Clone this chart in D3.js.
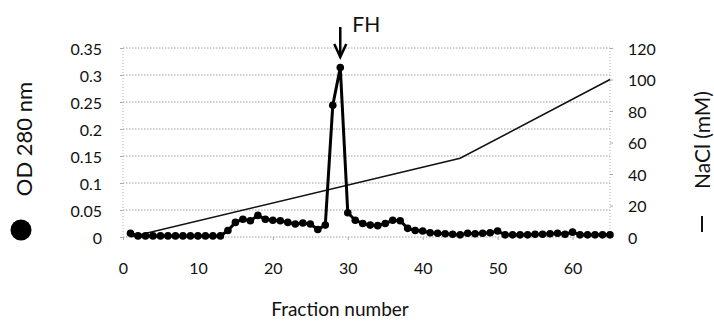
<!DOCTYPE html>
<html>
<head>
<meta charset="utf-8">
<script src="https://cdn.jsdelivr.net/npm/d3@7"></script>
<style>
  body { margin: 0; background: #fff; }
  text { font-family: Lato, "Open Sans", sans-serif; fill: #111; }
</style>
</head>
<body>
<div id="chart"></div>
<script>
// OD 280 nm per fraction (fractions 1..65)
var fractions = d3.range(1, 66);
var od280 = [
  0.007, 0.002, 0.002, 0.002, 0.002, 0.002, 0.002, 0.002, 0.002, 0.002,
  0.002, 0.002, 0.002, 0.012, 0.027, 0.033, 0.030, 0.040, 0.033, 0.031,
  0.030, 0.027, 0.024, 0.026, 0.024, 0.014, 0.022, 0.244, 0.314, 0.045,
  0.031, 0.025, 0.022, 0.021, 0.025, 0.031, 0.030, 0.016, 0.012, 0.011,
  0.008, 0.007, 0.006, 0.005, 0.004, 0.007, 0.006, 0.007, 0.008, 0.011,
  0.004, 0.004, 0.004, 0.004, 0.005, 0.005, 0.006, 0.007, 0.005, 0.009,
  0.004, 0.004, 0.004, 0.004, 0.004
];
// NaCl gradient (mM)
var naclFractions = [1, 45, 65];
var naclValues = [0, 50, 100];

var odTicks = [0, 0.05, 0.1, 0.15, 0.2, 0.25, 0.3, 0.35];
var naclTicks = [0, 20, 40, 60, 80, 100, 120];
var xTicks = [0, 10, 20, 30, 40, 50, 60];

const width = 714, height = 322;
const plot = {left: 123, right: 610, top: 48, bottom: 237};

var svg = d3.select("#chart").append("svg")
  .attr("width", width)
  .attr("height", height);

var x = d3.scaleLinear().domain([0, 65]).range([plot.left, plot.right]);
var yL = d3.scaleLinear().domain([0, 0.35]).range([plot.bottom, plot.top]);
var yR = d3.scaleLinear().domain([0, 120]).range([plot.bottom, plot.top]);

// gridlines
svg.append("g")
  .selectAll("line")
  .data(odTicks)
  .enter().append("line")
  .attr("x1", plot.left).attr("x2", plot.right)
  .attr("y1", d => yL(d)).attr("y2", d => yL(d))
  .attr("stroke", "#a0a0a0")
  .attr("stroke-width", 1)
  .attr("stroke-dasharray", "1.5,1.5");

// frame side lines (dotted)
[plot.left, plot.right].forEach(function(px) {
  svg.append("line")
    .attr("x1", px).attr("x2", px)
    .attr("y1", plot.top).attr("y2", plot.bottom)
    .attr("stroke", "#b5b5b5")
    .attr("stroke-dasharray", "1,2");
});

// left axis
var leftAxis = svg.append("g")
  .attr("transform", "translate(" + plot.left + ",0)")
  .call(d3.axisLeft(yL).tickValues(odTicks).tickSize(3).tickFormat(d => d === 0 ? "0" : String(d)));
leftAxis.select(".domain").remove();
leftAxis.selectAll("line").attr("stroke", "#aaa");
leftAxis.selectAll("text").attr("x", -21).attr("dy", "0.4em")
  .style("font-size", "16px").style("font-family", "Lato, sans-serif");

// right axis
var rightAxis = svg.append("g")
  .attr("transform", "translate(" + plot.right + ",0)")
  .call(d3.axisRight(yR).tickValues(naclTicks).tickSize(3));
rightAxis.select(".domain").remove();
rightAxis.selectAll("line").attr("stroke", "#aaa");
rightAxis.selectAll("text").attr("x", 18).attr("dy", "0.38em")
  .style("font-size", "16px").style("font-family", "Lato, sans-serif");

// bottom axis
var bottomAxis = svg.append("g")
  .attr("transform", "translate(0," + plot.bottom + ")")
  .call(d3.axisBottom(x).tickValues(xTicks).tickSize(3));
bottomAxis.select(".domain").remove();
bottomAxis.selectAll("line").attr("stroke", "#aaa");
bottomAxis.selectAll("text").attr("y", 26)
  .style("font-size", "16px").style("font-family", "Lato, sans-serif");

// NaCl line
var naclData = naclFractions.map((f, i) => ({f: f, v: naclValues[i]}));
svg.append("path")
  .datum(naclData)
  .attr("fill", "none")
  .attr("stroke", "#111")
  .attr("stroke-width", 1.6)
  .attr("d", d3.line().x(d => x(d.f)).y(d => yR(d.v)));

// OD line + markers
var odData = fractions.map((f, i) => ({f: f, v: od280[i]}));
svg.append("path")
  .datum(odData)
  .attr("fill", "none")
  .attr("stroke", "#000")
  .attr("stroke-width", 3)
  .attr("d", d3.line().x(d => x(d.f)).y(d => yL(d.v)));

svg.append("g")
  .selectAll("circle")
  .data(odData)
  .enter().append("circle")
  .attr("cx", d => x(d.f))
  .attr("cy", d => yL(d.v))
  .attr("r", 3.8)
  .attr("fill", "#000");

// FH arrow
var peakX = x(29);
svg.append("line")
  .attr("x1", peakX).attr("x2", peakX)
  .attr("y1", 27).attr("y2", 55)
  .attr("stroke", "#000").attr("stroke-width", 2.5);
svg.append("path")
  .attr("d", "M" + (peakX - 6) + ",44 L" + peakX + ",57 L" + (peakX + 6) + ",44")
  .attr("fill", "none").attr("stroke", "#000").attr("stroke-width", 2.5);
svg.append("text")
  .attr("x", peakX + 12).attr("y", 32)
  .style("font-size", "21px")
  .text("FH");

// left axis title with marker
svg.append("text")
  .attr("transform", "translate(32,139) rotate(-90)")
  .attr("text-anchor", "middle")
  .style("font-size", "22px")
  .text("OD 280 nm");
svg.append("circle")
  .attr("cx", 21).attr("cy", 230).attr("r", 10.5).attr("fill", "#000");

// right axis title with line marker
svg.append("text")
  .attr("transform", "translate(710,140) rotate(-90)")
  .attr("text-anchor", "middle")
  .style("font-size", "21px")
  .text("NaCl (mM)");
svg.append("line")
  .attr("x1", 702).attr("x2", 702)
  .attr("y1", 216).attr("y2", 232)
  .attr("stroke", "#111").attr("stroke-width", 2);

// x axis title
svg.append("text")
  .attr("x", 340).attr("y", 316)
  .attr("text-anchor", "middle")
  .style("font-size", "19px")
  .text("Fraction number");
</script>
</body>
</html>
